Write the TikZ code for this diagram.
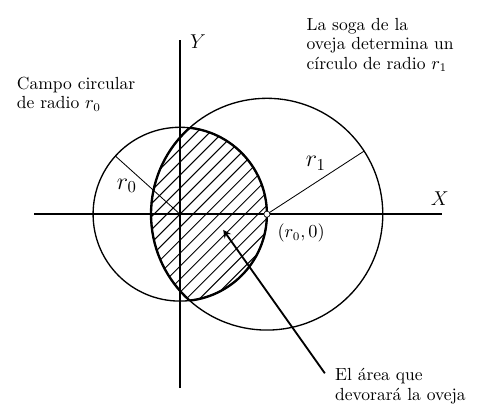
\documentclass[tikz,border=0pt]{standalone}
\usepackage{tikz}
\usetikzlibrary{positioning}
\newcommand{\radiocampo}{1.83}
\newcommand{\radiosoga}{2.44}
\newcommand{\paso}{0.274}
\newcommand{\letra}{\fontsize{10.5}{11.6}\selectfont}

\begin{document}
\begin{tikzpicture}[>=stealth]
	\useasboundingbox (-3.79,-4.12) rectangle (6.38,4.51);
	%
	%area rayada
	\begin{scope}
		\clip (0,0) circle (\radiocampo);
		\clip (\radiocampo,0) circle (\radiosoga);
		\foreach \k in {-14,...,16}
			\draw[line width=0.6pt] (\k*\paso-3,-3) -- (\k*\paso+3,3);
	\end{scope}
	%
	%ejes
	\coordinate (xizq) at (-3.07,0);
	\coordinate (xder) at (5.52,0);
	\coordinate (yaba) at (0,-3.66);
	\coordinate (yarr) at (0,3.67);
	\draw[line width=1.2pt] (xizq) -- (xder);
	\draw[line width=1.2pt] (yaba) -- (yarr);
	\node (etiqx) at (5.47,0.32) {\large $X$};
	\node (etiqy) at (0.38,3.63) {\large $Y$};
	%
	%circulos
	\coordinate (centro) at (0,0);
	\coordinate (oveja) at (\radiocampo,0);
	\draw[line width=0.8pt] (centro) circle (\radiocampo);
	\draw[line width=0.8pt] (oveja) circle (\radiosoga);
	%
	%borde grueso
	\begin{scope}
		\clip (centro) circle (\radiocampo);
		\draw[line width=1.4pt] (oveja) circle (\radiosoga);
	\end{scope}
	\begin{scope}
		\clip (oveja) circle (\radiosoga);
		\draw[line width=1.4pt] (centro) circle (\radiocampo);
	\end{scope}
	%
	%radios
	\draw[line width=0.5pt] (centro) -- ++(138:\radiocampo) coordinate (finr0);
	\draw[line width=0.5pt] (oveja) -- ++(33:\radiosoga) coordinate (finr1);
	\node (etiqr0) at (-1.12,0.60) {\Large $r_0$};
	\node (etiqr1) at (2.86,1.07) {\Large $r_1$};
	%
	%punto
	\draw[fill=white, line width=0.4pt] (oveja) circle (0.065);
	\node (etiqpunto) at (2.55,-0.40) {\letra $(r_0,0)$};
	%
	%textos
	\node[align=left, anchor=west, inner sep=0pt, font=\letra] (campo) at (-3.44,2.53)
		{Campo circular\\de radio $r_0$};
	\node[align=left, anchor=west, inner sep=0pt, font=\letra] (soga) at (2.66,3.56)
		{La soga de la\\oveja determina un\\c\'irculo de radio $r_1$};
	\node[align=left, anchor=west, inner sep=0pt, font=\letra] (devora) at (3.26,-3.62)
		{El \'area que\\devorar\'a la oveja};
	%
	%flecha
	\coordinate (cola) at (3.05,-3.35);
	\coordinate (punta) at (0.91,-0.33);
	\draw[->, line width=1.1pt] (cola) -- (punta);
\end{tikzpicture}
\end{document}
